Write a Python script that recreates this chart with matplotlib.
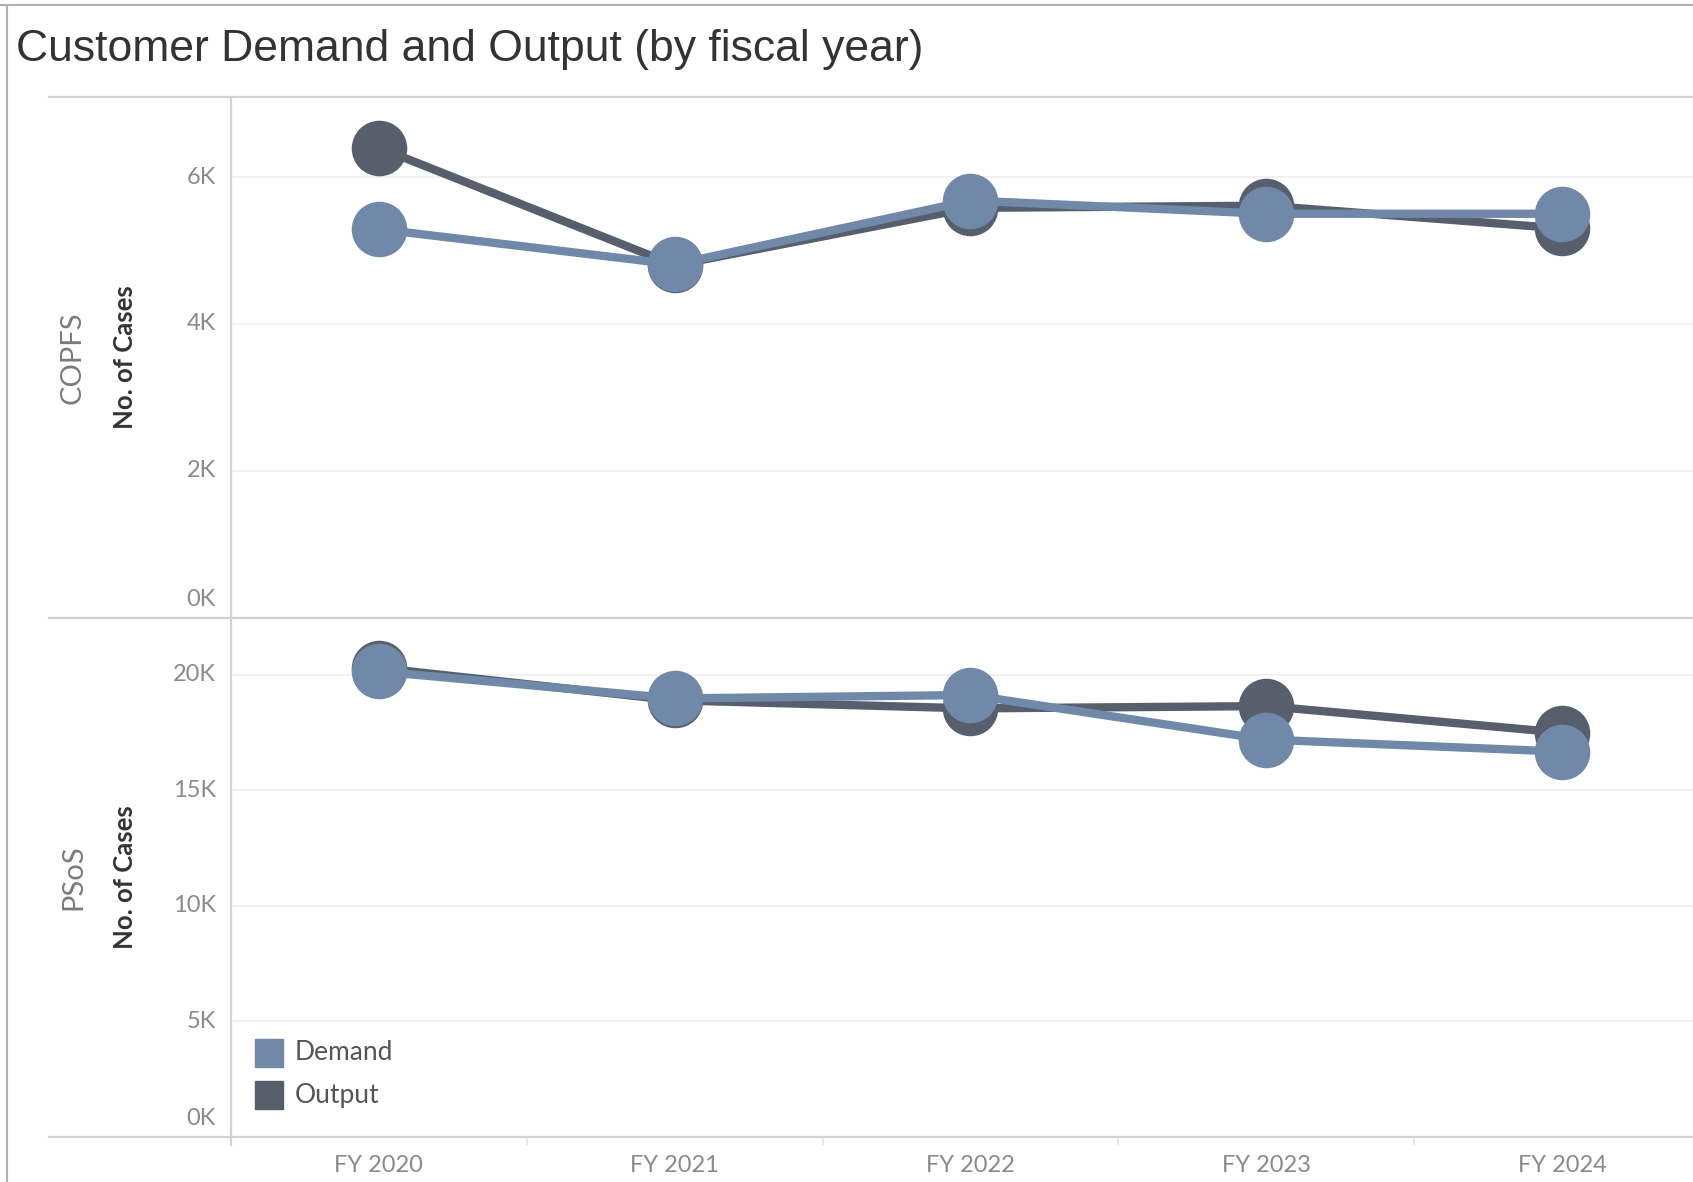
import numpy as np
import matplotlib.pyplot as plt
from matplotlib.lines import Line2D
from matplotlib.patches import Rectangle

# data
years = ["FY 2020", "FY 2021", "FY 2022", "FY 2023", "FY 2024"]
copfs_demand = [5290, 4810, 5680, 5500, 5500]
copfs_output = [6400, 4800, 5580, 5610, 5300]
psos_demand = [20150, 18980, 19130, 17200, 16680]
psos_output = [20300, 18900, 18550, 18650, 17500]

copfs_ticks = [0, 2000, 4000, 6000]
psos_ticks = [0, 5000, 10000, 15000, 20000]

demand_c = "#7089a8"
output_c = "#575f6d"
rule_c = "#d2d2d2"
grey_txt = "#8a8a8a"

W, H = 1693, 1182
fig = plt.figure(figsize=(W / 100, H / 100), dpi=100)


def fx(px):
    return px / W


def fy(py):
    return 1 - py / H


left, top, mid, bot = 231, 97, 617.6, 1137
ax1 = fig.add_axes([fx(left), fy(mid), 1 - fx(left), (mid - top) / H])
ax2 = fig.add_axes([fx(left), fy(bot), 1 - fx(left), (bot - mid) / H])

x = np.arange(len(years))
panels = [
    (ax1, copfs_demand, copfs_output, copfs_ticks, 7090),
    (ax2, psos_demand, psos_output, psos_ticks, 22480),
]

for ax, dem, out, ticks, ymax in panels:
    ax.set_xlim(-0.5, 4.443)
    ax.set_ylim(0, ymax)
    for s in ax.spines.values():
        s.set_visible(False)
    ax.set_yticks([])
    for t in ticks[1:]:
        ax.axhline(t, color="#efefef", lw=1.2, zorder=0)
    # tick labels, the 0K one nudged up like tableau does
    for t in ticks:
        yy = t + 0.035 * ymax if t == 0 else t
        ax.text(-0.0105, yy, f"{t // 1000}K", transform=ax.get_yaxis_transform(),
                ha="right", va="center", fontsize=17, color=grey_txt,
                family="Lato")
    ax.plot(x, out, color=output_c, lw=6, marker="o", ms=40, mew=0,
            zorder=2, clip_on=False)
    ax.plot(x, dem, color=demand_c, lw=6, marker="o", ms=40, mew=0,
            zorder=3, clip_on=False)

ax1.set_xticks([])
ax2.set_xticks(x, years)
ax2.set_xticks(np.arange(-0.5, 4.0, 1.0), minor=True)
ax2.tick_params(axis="x", which="major", length=0, pad=13, labelsize=17,
                labelcolor=grey_txt)
ax2.tick_params(axis="x", which="minor", length=6, width=1.2, color="#e2e2e2")
for lbl in ax2.get_xticklabels():
    lbl.set_family("Lato")

# frame rules
for py in [top, mid, bot]:
    fig.add_artist(Line2D([fx(49), 1], [fy(py)] * 2, color=rule_c, lw=1.6))
fig.add_artist(Line2D([fx(left)] * 2, [fy(top), fy(bot + 8)], color=rule_c, lw=1.6))
fig.add_artist(Line2D([0, 1], [fy(5.4)] * 2, color="#b0b0b0", lw=1.5))
fig.add_artist(Line2D([fx(6.5)] * 2, [fy(5.4), 0], color="#b0b0b0", lw=1.5))

fig.text(fx(16), fy(50), "Customer Demand and Output (by fiscal year)",
         va="center", ha="left", fontsize=32, color="#333333",
         family="Liberation Sans")

for name, cy in [("COPFS", (top + mid) / 2), ("PSoS", (mid + bot) / 2)]:
    fig.text(fx(73), fy(cy), name, rotation=90, ha="center", va="center",
             fontsize=21, color="#7a7a7a", family="Lato")
    fig.text(fx(125), fy(cy), "No. of Cases", rotation=90, ha="center",
             va="center", fontsize=18.5, color="#333333", family="Lato",
             weight="bold")

# legend
for name, c, cy in [("Demand", demand_c, 1053), ("Output", output_c, 1095)]:
    fig.add_artist(Rectangle((fx(255), fy(cy + 14)), 28 / W, 28 / H,
                             color=c, transform=fig.transFigure))
    fig.text(fx(295), fy(cy), name, ha="left", va="center", fontsize=19,
             color="#555555", family="Lato")

fig.savefig("out.png", dpi=100)
